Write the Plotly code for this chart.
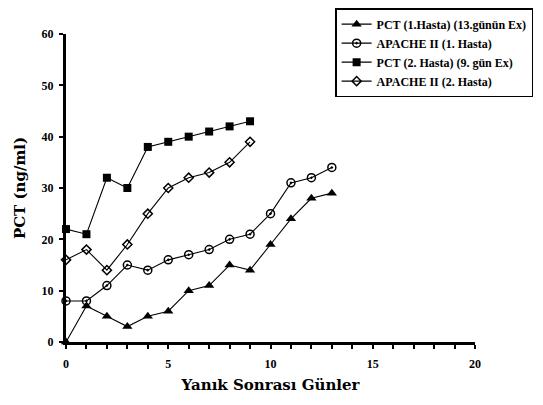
import plotly.graph_objects as go

days1 = list(range(14))
pct1 = [0, 7, 5, 3, 5, 6, 10, 11, 15, 14, 19, 24, 28, 29]
apache1 = [8, 8, 11, 15, 14, 16, 17, 18, 20, 21, 25, 31, 32, 34]
days2 = list(range(10))
pct2 = [22, 21, 32, 30, 38, 39, 40, 41, 42, 43]
apache2 = [16, 18, 14, 19, 25, 30, 32, 33, 35, 39]

names = ["PCT (1.Hasta) (13.günün Ex)", "APACHE II (1. Hasta)",
         "PCT (2. Hasta) (9. gün Ex)", "APACHE II (2. Hasta)"]

F = "Liberation Serif, Times New Roman, serif"
FT = "DejaVu Serif, serif"
fig = go.Figure()
series = [
    (days1, pct1, names[0], dict(symbol="triangle-up", size=9, color="black")),
    (days1, apache1, names[1], dict(symbol="circle-open-dot", size=8, color="black", line=dict(width=1.5))),
    (days2, pct2, names[2], dict(symbol="square", size=8, color="black")),
    (days2, apache2, names[3], dict(symbol="diamond-open", size=7, color="black", line=dict(width=1.5))),
]
for x, y, n, m in series:
    fig.add_trace(go.Scatter(x=x, y=y, name=n, mode="lines+markers",
                             line=dict(color="black", width=1.1), marker=m,
                             cliponaxis=False))

fig.update_layout(
    width=543, height=405, plot_bgcolor="white", paper_bgcolor="white",
    margin=dict(l=58, r=76, t=26, b=71, autoexpand=False),
    font=dict(family=F, color="black"),
    legend=dict(x=0.658, y=1.084, xanchor="left", yanchor="top",
                bordercolor="black", borderwidth=1.5, bgcolor="white",
                font=dict(family=F, size=12, weight="bold"),
                tracegroupgap=0, itemwidth=30),
    xaxis=dict(range=[0, 20], tickmode="array", tickvals=[0, 5, 10, 15, 20],
               showgrid=False, zeroline=False, showline=True, linecolor="black", linewidth=3,
               ticks="outside", ticklen=4, tickwidth=2, tickcolor="black",
               minor=dict(dtick=1, ticks="outside", ticklen=4, tickwidth=2, tickcolor="black"),
               tickfont=dict(family=F, size=12, weight="bold"), ticklabelstandoff=5,
               automargin=False,
               title=dict(text="Yanık Sonrası Günler", font=dict(family=FT, size=15, weight="bold"), standoff=10)),
    yaxis=dict(range=[0, 60], dtick=10, showgrid=False, zeroline=False, showline=True,
               linecolor="black", linewidth=3, ticks="outside", ticklen=4, tickwidth=2, tickcolor="black",
               tickfont=dict(family=F, size=12, weight="bold"), ticklabelstandoff=3, automargin=False,
               title=dict(text="PCT (ng/ml)", font=dict(family=FT, size=15, weight="bold"), standoff=13)),
)
fig.write_html("out.html")
